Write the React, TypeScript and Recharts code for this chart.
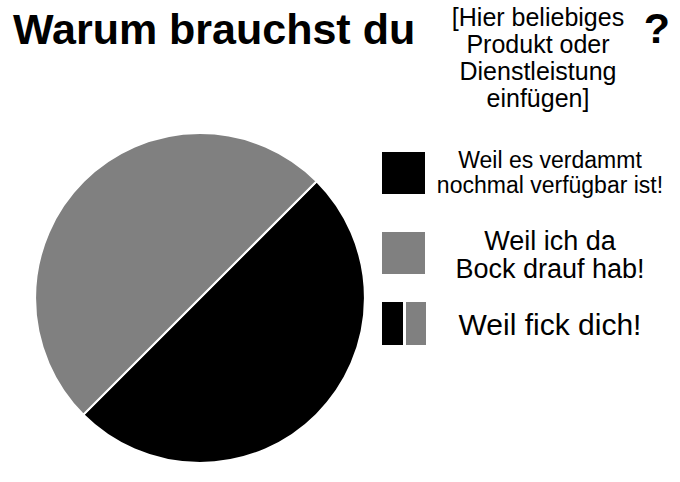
import { PieChart, Pie, Cell, Legend } from "recharts";

const reasons = ["Weil es verdammt nochmal verfügbar ist!", "Weil ich da Bock drauf hab!"];
const shares = [50, 50];
const colors = ["#000000", "#808080"];
const reasonLines = [
    ["Weil es verdammt", "nochmal verfügbar ist!"],
    ["Weil ich da", "Bock drauf hab!"]
];
const bothLabel = "Weil fick dich!";
const titleText = "Warum brauchst du";
const bracketLines = ["[Hier beliebiges", "Produkt oder", "Dienstleistung", "einfügen]"];

const data = reasons.map((name, i) => ({ name, value: shares[i] }));
const font = "'Liberation Sans', Arial, sans-serif";

// legend rows, relative to the legend box
const rowTop = [12, 92];
const rowBase = [[28, 53], [110, 138]];
const rowFont = [23, 27];

function LegendBox({ payload }: any) {
    const items = payload || [];
    return (
        <svg width={310} height={220} style={{ fontFamily: font }}>
            {items.map((item: any, i: number) => (
                <g key={item.value}>
                    <rect x={12} y={rowTop[i]} width={43} height={42} fill={item.color} />
                    {(reasonLines[i] || [item.value]).map((l, j) => (
                        <text key={l} x={180} y={rowBase[i][j]} textAnchor="middle" fontSize={rowFont[i]} fill="#000">
                            {l}
                        </text>
                    ))}
                </g>
            ))}
            <rect x={12} y={162} width={21} height={43} fill={colors[0]} />
            <rect x={36} y={162} width={20} height={43} fill={colors[1]} />
            <text x={180} y={195} textAnchor="middle" fontSize={30} fill="#000">{bothLabel}</text>
        </svg>
    );
}

export default function App() {
    return (
        <div style={{ position: "absolute", left: 0, top: 0, width: 680, height: 482, background: "#fff" }}>
            <svg width={680} height={130} style={{ position: "absolute", left: 0, top: 0, fontFamily: font }}>
                <text x={13} y={44} fontSize={43} fontWeight="bold" fill="#000">{titleText}</text>
                <text x={657} y={43} fontSize={43} fontWeight="bold" textAnchor="middle" fill="#000">?</text>
                {bracketLines.map((l, i) => (
                    <text key={l} x={538} y={26 + i * 27} fontSize={25} textAnchor="middle" fill="#000">{l}</text>
                ))}
            </svg>
            <PieChart
                width={680}
                height={482}
                margin={{ top: 0, right: 0, bottom: 0, left: 0 }}
                style={{ position: "absolute", left: 0, top: 0 }}
            >
                <Pie
                    data={data}
                    dataKey="value"
                    nameKey="name"
                    cx={200}
                    cy={298}
                    outerRadius={165}
                    startAngle={45}
                    endAngle={-315}
                    stroke="#fff"
                    strokeWidth={2}
                    isAnimationActive={false}
                >
                    {data.map((d, i) => (
                        <Cell key={d.name} fill={colors[i]} />
                    ))}
                </Pie>
                <Legend
                    content={<LegendBox />}
                    wrapperStyle={{ position: "absolute", left: 370, top: 140, width: 310, height: 220 }}
                />
            </PieChart>
        </div>
    );
}
